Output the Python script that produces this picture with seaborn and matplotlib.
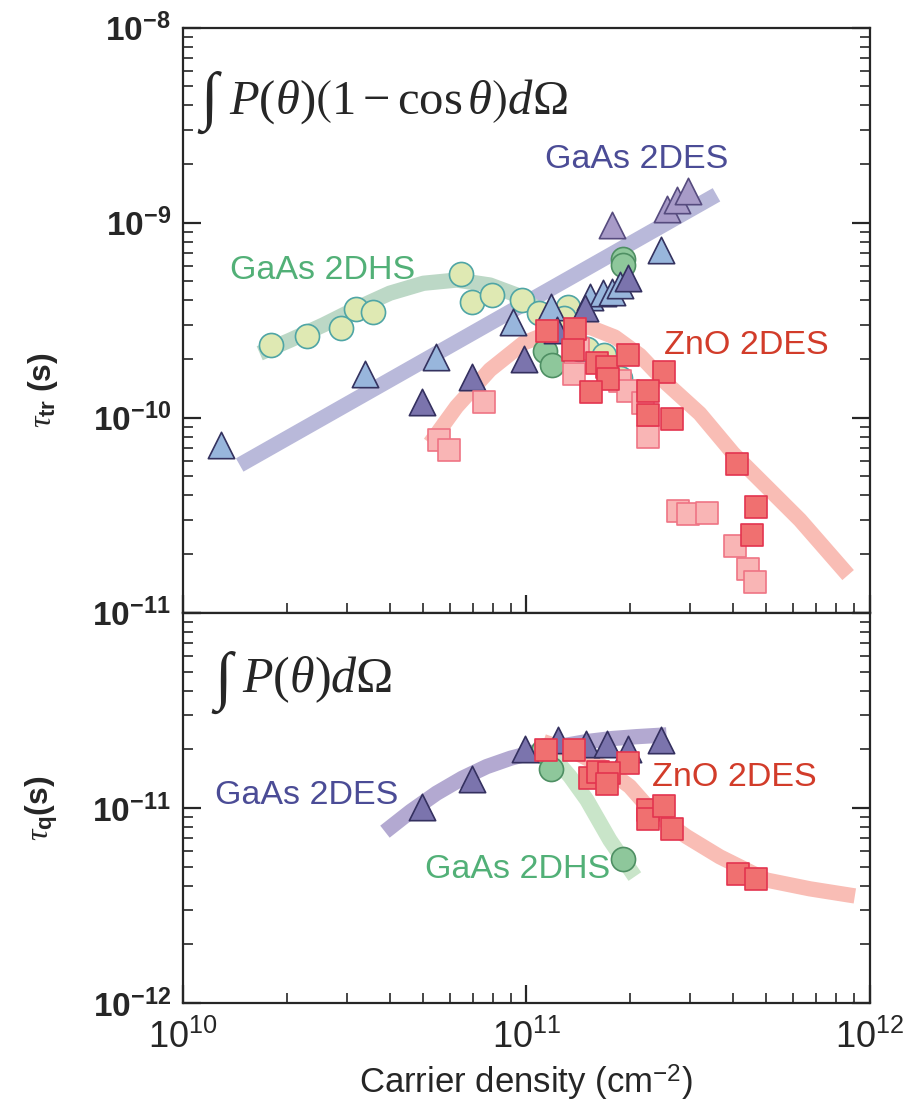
import numpy as np
import pandas as pd
import matplotlib
matplotlib.use("Agg")
import matplotlib.pyplot as plt
from matplotlib import font_manager
import seaborn as sns

sns.set_style("ticks")

names = {f.name for f in font_manager.fontManager.ttflist}
narrow = "Liberation Sans Narrow" if "Liberation Sans Narrow" in names else "Liberation Sans"

plt.rcParams["font.family"] = [narrow, "DejaVu Sans"]
plt.rcParams["mathtext.fontset"] = "custom"
plt.rcParams["mathtext.rm"] = "Liberation Serif"
plt.rcParams["mathtext.it"] = "Liberation Serif:italic"
plt.rcParams["mathtext.bf"] = "Liberation Sans:bold"
plt.rcParams["mathtext.sf"] = narrow
plt.rcParams["mathtext.fallback"] = "stix"

# ---------------- top panel: transport lifetime ----------------
# GaAs 2DHS (light circles)
hs_lt_n = [1.80e10, 2.29e10, 2.88e10, 3.18e10, 3.57e10, 6.44e10, 6.94e10, 7.93e10,
           9.68e10, 1.09e11, 1.32e11, 1.29e11, 1.42e11, 1.50e11, 1.68e11, 1.88e11]
hs_lt_t = [2.36e-10, 2.62e-10, 2.89e-10, 3.61e-10, 3.48e-10, 5.48e-10, 3.92e-10, 4.27e-10,
           3.99e-10, 3.44e-10, 3.71e-10, 3.24e-10, 2.26e-10, 2.25e-10, 2.10e-10, 1.60e-10]
# GaAs 2DHS (dark circles)
hs_dk_n = [1.13e11, 1.19e11, 1.91e11, 1.91e11]
hs_dk_t = [2.20e-10, 1.86e-10, 6.48e-10, 6.06e-10]
# GaAs 2DES triangles
es_lb_n = [1.29e10, 3.38e10, 5.44e10, 9.12e10, 1.18e11, 1.53e11, 1.67e11, 1.77e11, 1.87e11, 2.46e11]
es_lb_t = [7.24e-11, 1.68e-10, 2.05e-10, 3.11e-10, 3.71e-10, 4.17e-10, 4.38e-10, 4.43e-10, 4.79e-10, 7.24e-10]
es_dk_n = [4.95e10, 6.93e10, 9.86e10, 1.23e11, 1.48e11, 1.98e11]
es_dk_t = [1.20e-10, 1.62e-10, 2.01e-10, 2.82e-10, 3.65e-10, 5.19e-10]
es_lp_n = [1.78e11, 2.56e11, 2.74e11, 2.96e11]
es_lp_t = [9.73e-10, 1.17e-9, 1.30e-9, 1.46e-9]
# ZnO 2DES squares
zn_dk_n = [1.15e11, 1.39e11, 1.37e11, 1.61e11, 1.72e11, 1.73e11, 1.98e11, 2.52e11,
           1.54e11, 2.26e11, 2.26e11, 2.66e11, 4.12e11, 4.66e11, 4.53e11]
zn_dk_t = [2.79e-10, 2.85e-10, 2.22e-10, 1.91e-10, 1.81e-10, 1.58e-10, 2.10e-10, 1.71e-10,
           1.35e-10, 1.37e-10, 1.03e-10, 9.82e-11, 5.77e-11, 3.50e-11, 2.51e-11]
zn_lt_n = [1.41e11, 1.38e11, 7.53e10, 5.55e10, 5.94e10, 1.88e11, 1.98e11, 2.18e11,
           2.26e11, 2.76e11, 2.96e11, 3.35e11, 4.05e11, 4.43e11, 4.63e11]
zn_lt_t = [2.25e-10, 1.67e-10, 1.21e-10, 7.68e-11, 6.81e-11, 1.54e-10, 1.37e-10, 1.19e-10,
           8.00e-11, 3.33e-11, 3.21e-11, 3.24e-11, 2.21e-11, 1.67e-11, 1.43e-11]
# guide curves
es_fit_n = [1.46e10, 3.58e11]
es_fit_t = [5.72e-11, 1.39e-9]
hs_fit_n = [1.67e10, 2.05e10, 2.56e10, 3.20e10, 4.00e10, 5.01e10, 6.26e10, 7.83e10,
            9.36e10, 1.09e11, 1.31e11, 1.56e11, 1.87e11]
hs_fit_t = [2.14e-10, 2.50e-10, 2.99e-10, 3.64e-10, 4.35e-10, 4.89e-10, 5.08e-10, 4.79e-10,
            4.26e-10, 3.57e-10, 2.82e-10, 2.22e-10, 1.83e-10]
zn_fit_n = [5.24e10, 6.26e10, 7.83e10, 9.79e10, 1.22e11, 1.53e11, 1.81e11, 2.14e11,
            2.56e11, 3.20e11, 4.00e11, 5.01e11, 6.27e11, 8.66e11]
zn_fit_t = [7.40e-11, 1.14e-10, 1.76e-10, 2.41e-10, 2.82e-10, 2.91e-10, 2.59e-10, 2.09e-10,
            1.50e-10, 1.05e-10, 6.57e-11, 4.43e-11, 2.99e-11, 1.56e-11]

# ---------------- bottom panel: quantum lifetime ----------------
q_es_n = [4.95e10, 6.93e10, 9.90e10, 1.24e11, 1.49e11, 1.72e11, 1.98e11, 2.46e11]
q_es_t = [1.01e-11, 1.40e-11, 2.01e-11, 2.23e-11, 2.12e-11, 2.12e-11, 2.00e-11, 2.23e-11]
q_hs_n = [1.12e11, 1.18e11, 1.91e11]
q_hs_t = [1.95e-11, 1.58e-11, 5.50e-12]
q_zn_n = [1.14e11, 1.38e11, 1.98e11, 1.53e11, 1.62e11, 1.74e11, 1.72e11, 2.26e11, 2.26e11,
          2.52e11, 2.66e11, 4.13e11, 4.66e11]
q_zn_t = [1.98e-11, 1.98e-11, 1.71e-11, 1.43e-11, 1.53e-11, 1.52e-11, 1.33e-11, 9.77e-12, 8.75e-12,
          1.02e-11, 7.80e-12, 4.56e-12, 4.31e-12]
q_es_fit_n = [3.87e10, 4.60e10, 5.47e10, 6.50e10, 7.66e10, 9.00e10, 1.07e11, 1.27e11, 1.50e11, 1.78e11, 2.09e11, 2.56e11]
q_es_fit_t = [7.56e-12, 9.60e-12, 1.19e-11, 1.42e-11, 1.63e-11, 1.80e-11, 1.95e-11, 2.08e-11, 2.19e-11, 2.27e-11, 2.32e-11, 2.37e-11]
q_hs_fit_n = [1.09e11, 1.15e11, 1.34e11, 1.50e11, 1.75e11, 2.07e11]
q_hs_fit_t = [2.10e-11, 1.98e-11, 1.45e-11, 1.10e-11, 6.85e-12, 4.45e-12]
q_zn_fit_n = [1.12e11, 1.40e11, 1.67e11, 2.00e11, 2.34e11, 2.93e11, 3.66e11, 5.01e11, 6.70e11, 9.06e11]
q_zn_fit_t = [2.19e-11, 1.91e-11, 1.63e-11, 1.29e-11, 9.43e-12, 7.13e-12, 5.62e-12, 4.27e-12, 3.85e-12, 3.54e-12]

C_ES = "#4b4c96"
C_HS = "#52b077"
C_ZN = "#d23c2a"

fig = plt.figure(figsize=(9.16, 11.11), dpi=100)
ax1 = fig.add_axes([0.2001, 0.4485, 0.7492, 0.5266])
ax2 = fig.add_axes([0.2001, 0.0972, 0.7492, 0.3511])


def curve(ax, n, t, color):
    sns.lineplot(x=n, y=t, ax=ax, sort=False, estimator=None, color=color,
                 lw=11, solid_capstyle="butt", solid_joinstyle="round", zorder=1)


def pts(ax, n, t, marker, size, face, edge, z):
    sns.scatterplot(x=n, y=t, ax=ax, marker=marker, s=size, color=face,
                    edgecolor=edge, linewidth=1.2, zorder=z)


curve(ax1, es_fit_n, es_fit_t, "#b9b9da")
curve(ax1, hs_fit_n, hs_fit_t, "#bcd8c6")
curve(ax1, zn_fit_n, zn_fit_t, "#f9bdb5")
pts(ax1, hs_lt_n, hs_lt_t, "o", 300, "#dfe9b3", "#4fa5a5", 2)
pts(ax1, hs_dk_n, hs_dk_t, "o", 300, "#8ec79b", "#4e8f63", 3)
pts(ax1, es_lb_n, es_lb_t, "^", 360, "#98b6dc", "#34325f", 3)
pts(ax1, es_dk_n, es_dk_t, "^", 360, "#7b74ad", "#34305f", 3)
pts(ax1, es_lp_n, es_lp_t, "^", 360, "#a89bc8", "#564b7e", 3)
pts(ax1, zn_lt_n, zn_lt_t, "s", 230, "#f9b5b5", "#ef7484", 4)
pts(ax1, zn_dk_n, zn_dk_t, "s", 230, "#f07070", "#e3344f", 4)

curve(ax2, q_es_fit_n, q_es_fit_t, "#b3a9d1")
curve(ax2, q_hs_fit_n, q_hs_fit_t, "#c9e5c9")
curve(ax2, q_zn_fit_n, q_zn_fit_t, "#f9bdb5")
pts(ax2, q_hs_n, q_hs_t, "o", 300, "#8ec79b", "#4e8f63", 2)
pts(ax2, q_es_n, q_es_t, "^", 360, "#7b74ad", "#34305f", 3)
pts(ax2, q_zn_n, q_zn_t, "s", 230, "#f07070", "#e3344f", 4)

for ax in (ax1, ax2):
    ax.set_xscale("log")
    ax.set_yscale("log")
    ax.set_xlim(1e10, 1e12)
    for s in ax.spines.values():
        s.set_linewidth(1.6)
        s.set_visible(True)
    ax.tick_params(which="major", direction="in", length=13, width=1.6,
                   left=True, right=True, top=False, bottom=True)
    ax.tick_params(which="minor", direction="in", length=7, width=1.2,
                   left=True, right=True, top=False, bottom=True)
    ax.tick_params(axis="y", which="major", pad=9)
    ax.set_xlabel("")

ax1.set_ylim(1e-11, 1e-8)
ax2.set_ylim(1e-12, 1e-10)

ax1.set_yticks([1e-11, 1e-10, 1e-9, 1e-8])
ax1.set_yticklabels([r"$\mathbf{10^{-11}}$", r"$\mathbf{10^{-10}}$",
                     r"$\mathbf{10^{-9}}$", r"$\mathbf{10^{-8}}$"], fontsize=24)
ax1.tick_params(axis="x", which="both", labelbottom=False)

ax2.set_yticks([1e-12, 1e-11, 1e-10])
ax2.set_yticklabels([r"$\mathbf{10^{-12}}$", r"$\mathbf{10^{-11}}$", ""], fontsize=24)
ax2.set_xticks([1e10, 1e11, 1e12])
ax2.set_xticklabels([r"$\mathsf{10^{10}}$", r"$\mathsf{10^{11}}$", r"$\mathsf{10^{12}}$"], fontsize=26)
ax2.tick_params(axis="x", which="major", pad=12)
ax2.set_xlabel(r"Carrier density (cm$^{\mathsf{-2}}$)", fontsize=25, labelpad=5)

ax1.set_ylabel(r"$\tau_{\mathbf{tr}}\ \mathbf{(s)}$", fontsize=23)
ax2.set_ylabel(r"$\tau_{\mathbf{q}}\mathbf{(s)}$", fontsize=23)
ax1.yaxis.set_label_coords(-0.18, 0.38)
ax2.yaxis.set_label_coords(-0.18, 0.50)

lab = dict(fontsize=24.5, family=["Liberation Sans", "DejaVu Sans"], va="center")
ax1.text(0.527, 0.774, "GaAs 2DES", color=C_ES, transform=ax1.transAxes, **lab)
ax1.text(0.068, 0.585, "GaAs 2DHS", color=C_HS, transform=ax1.transAxes, **lab)
ax1.text(0.700, 0.457, "ZnO 2DES", color=C_ZN, transform=ax1.transAxes, **lab)
ax1.text(0.020, 0.872, r"$\int$", fontsize=46, transform=ax1.transAxes, va="center")
ax1.text(0.066, 0.874, r"$P(\theta)\left(1-\cos\theta\right)d\Omega$",
         fontsize=35, transform=ax1.transAxes, va="center")

ax2.text(0.046, 0.533, "GaAs 2DES", color=C_ES, transform=ax2.transAxes, **lab)
ax2.text(0.683, 0.579, "ZnO 2DES", color=C_ZN, transform=ax2.transAxes, **lab)
ax2.text(0.352, 0.341, "GaAs 2DHS", color=C_HS, transform=ax2.transAxes, **lab)
ax2.text(0.040, 0.822, r"$\int$", fontsize=46, transform=ax2.transAxes, va="center")
ax2.text(0.086, 0.828, r"$P(\theta)d\Omega$",
         fontsize=36, transform=ax2.transAxes, va="center")

fig.savefig("out.png", dpi=100)
